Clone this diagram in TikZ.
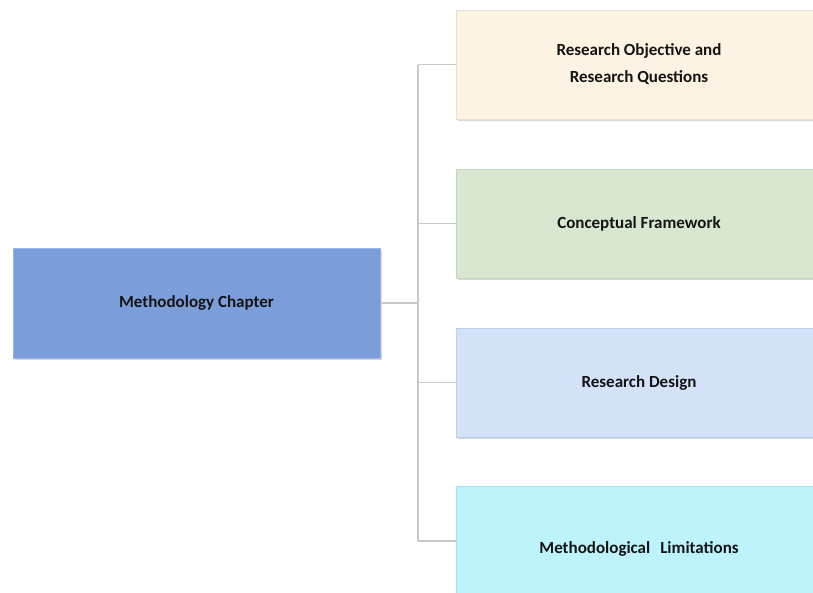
\documentclass[tikz,border=0pt]{standalone}
\usepackage{fontspec}
\setmainfont{Carlito}
\usetikzlibrary{shadows}
\definecolor{mainfill}{RGB}{123,158,219}
\definecolor{mainedge}{RGB}{150,182,236}
\definecolor{objfill}{RGB}{253,243,226}
\definecolor{objedge}{RGB}{232,224,208}
\definecolor{cfwfill}{RGB}{216,232,208}
\definecolor{cfwedge}{RGB}{196,214,188}
\definecolor{desfill}{RGB}{211,226,248}
\definecolor{desedge}{RGB}{190,207,232}
\definecolor{limfill}{RGB}{188,243,252}
\definecolor{limedge}{RGB}{168,224,236}
\definecolor{linkgray}{RGB}{200,200,200}
\tikzset{
  box/.style={rectangle, line width=1pt, inner sep=0pt,
    font=\fontsize{17}{27}\selectfont\bfseries, text=black!92, align=center,
    drop shadow={shadow xshift=1.5pt, shadow yshift=-1.5pt, opacity=0.3}},
  mainbox/.style={box, fill=mainfill, draw=mainedge, minimum width=367pt, minimum height=110pt},
  topicbox/.style={box, minimum width=366pt, minimum height=109pt},
  link/.style={draw=linkgray, line width=1.5pt}
}
\begin{document}
\begin{tikzpicture}[x=1pt,y=-1pt]
  \useasboundingbox (0,0) rectangle (813,592);
  \clip (0,0) rectangle (813,592);
  \fill[white] (0,0) rectangle (813,592);

  % left node and the four topics on the right
  \node[mainbox] (main) at (196.5,303) {Methodology Chapter};
  \node[topicbox, fill=objfill, draw=objedge] (obj) at (639,64.5)
    {Research Objective and\\Research Questions};
  \node[topicbox, fill=cfwfill, draw=cfwedge] (cfw) at (639,223.5) {Conceptual Framework};
  \node[topicbox, fill=desfill, draw=desedge] (des) at (639,382.5) {Research Design};
  \node[topicbox, fill=limfill, draw=limedge, text height=26pt, text depth=2pt]
    (lim) at (639,541) {Methodological\hspace{10pt}Limitations};

  % elbow connectors through a shared vertical bus
  \coordinate (bus) at (418,303);
  \draw[link] (main.east) -- (bus);
  \draw[link] (bus |- obj.west) -- (bus |- lim.west);
  \draw[link] (bus |- obj.west) -- (obj.west);
  \draw[link] (bus |- cfw.west) -- (cfw.west);
  \draw[link] (bus |- des.west) -- (des.west);
  \draw[link] (bus |- lim.west) -- (lim.west);
\end{tikzpicture}
\end{document}
